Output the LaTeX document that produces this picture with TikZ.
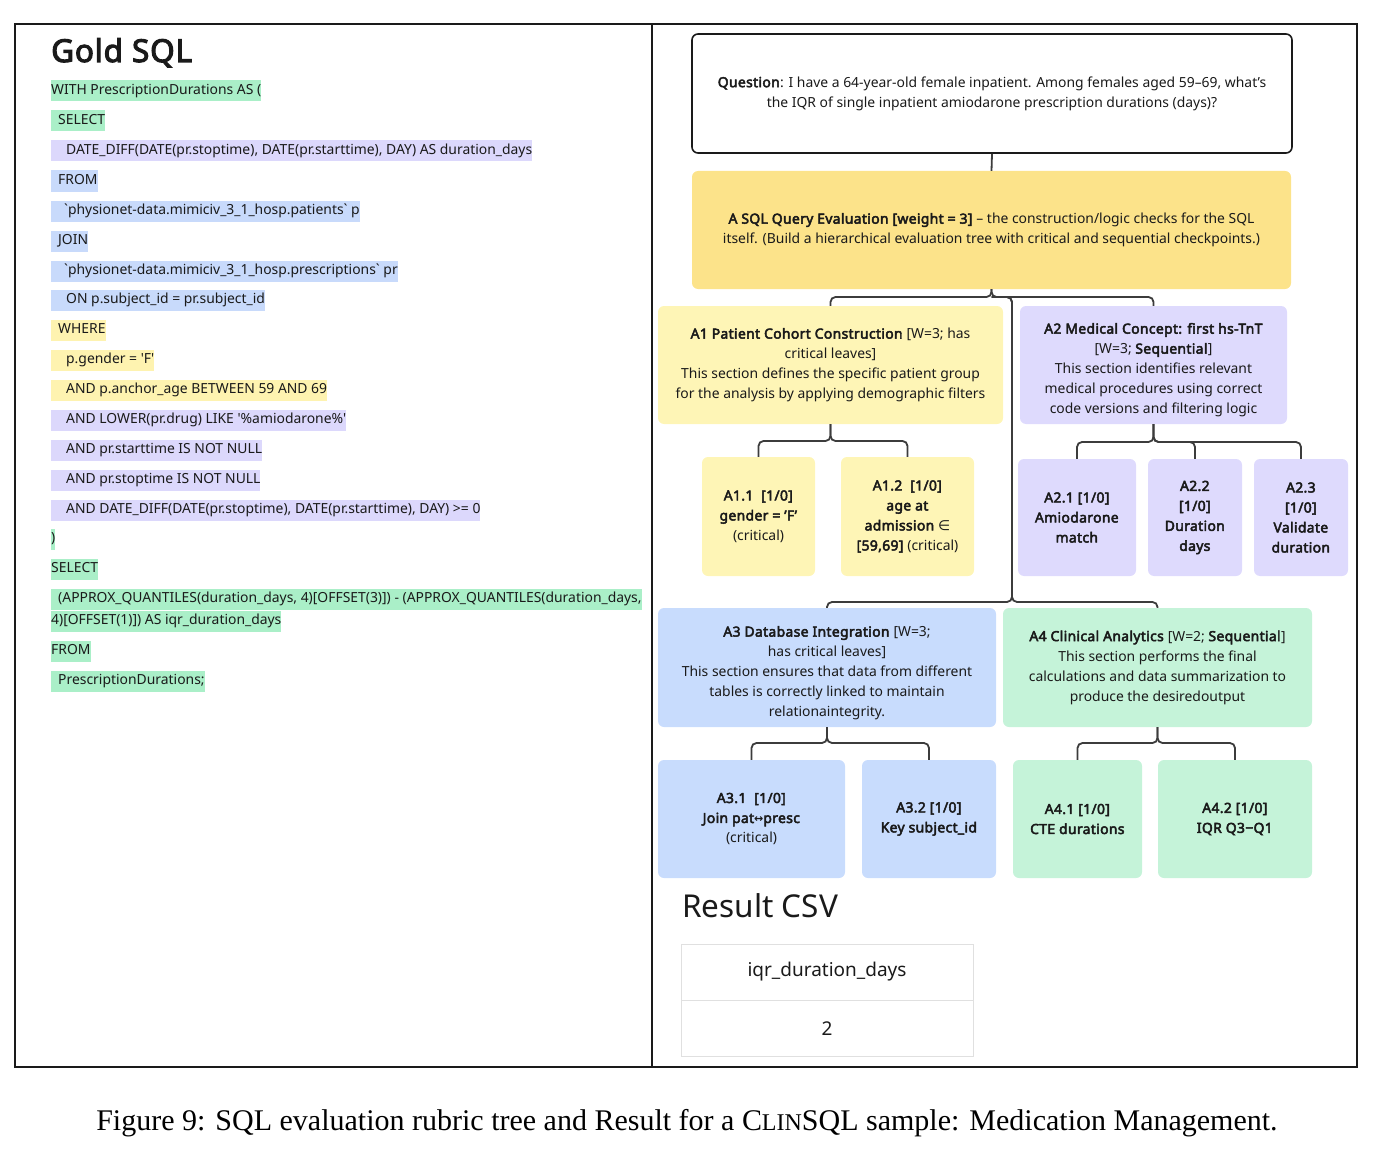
\documentclass[tikz,border=0pt]{standalone}
\usepackage{fontspec}
\setmainfont{Noto Sans}[Ligatures=ResetAll,BoldFont={Noto Sans},BoldFeatures={Ligatures=ResetAll,FakeBold=3.4,LetterSpace=2.5}]
\newfontfamily\codefont{Noto Sans}[Ligatures=ResetAll]
\newfontfamily\capfont{Liberation Serif}
\newfontfamily\symfont{DejaVu Sans}
\usetikzlibrary{positioning}

\definecolor{ink}{HTML}{1A1A1A}
\definecolor{cgreen}{HTML}{AAEFC8}
\definecolor{cpurple}{HTML}{DCD8FC}
\definecolor{cblue}{HTML}{C8DAFB}
\definecolor{cyellow}{HTML}{FEF3B0}
\definecolor{aroot}{HTML}{FCE38A}
\definecolor{aone}{HTML}{FEF5B6}
\definecolor{atwo}{HTML}{DEDAFD}
\definecolor{athree}{HTML}{C8DCFD}
\definecolor{afour}{HTML}{C5F3D9}

\begin{document}
\begin{tikzpicture}[x=1pt,y=-1pt,
    hl/.style={anchor=west,inner xsep=0pt,inner ysep=0pt,minimum height=21pt,
        text height=10pt,text depth=3pt,text=ink,font=\codefont\fontsize{13.9}{13.9}\selectfont},
    box/.style={rounded corners=6pt,align=center,inner sep=0pt,text=ink,
        font=\fontsize{13.9}{20}\selectfont},
    conn/.style={draw=ink!85,line width=1.8pt,rounded corners=5pt},
    cell/.style={draw=black!12,minimum width=292pt,minimum height=56pt,text=ink,
        font=\fontsize{19}{19}\selectfont}
    ]
    \useasboundingbox (0,0) rectangle (1374,1153);

    % frame
    \draw[line width=2pt,ink] (15,24) rectangle (1357,1067);
    \draw[line width=2pt,ink] (652,24) -- (652,1067);

    % Gold SQL panel
    \node[anchor=base west,inner sep=0pt,text=ink,font=\bfseries\fontsize{31.5}{31.5}\selectfont] (gold) at (51,62) {Gold SQL};

    \node[hl,fill=cgreen] (c1) at (51,91) {WITH PrescriptionDurations AS (};
    \node[hl,fill=cgreen] (c2) at (51,121) {\hspace*{7pt}SELECT};
    \node[hl,fill=cpurple] (c3) at (51,151) {\hspace*{15pt}DATE\_DIFF(DATE(pr.stoptime), DATE(pr.starttime), DAY) AS duration\_days};
    \node[hl,fill=cblue] (c4) at (51,181) {\hspace*{7pt}FROM};
    \node[hl,fill=cblue] (c5) at (51,211) {\hspace*{13pt}`physionet-data.mimiciv\_3\_1\_hosp.patients` p};
    \node[hl,fill=cblue] (c6) at (51,241) {\hspace*{7pt}JOIN};
    \node[hl,fill=cblue] (c7) at (51,271) {\hspace*{13pt}`physionet-data.mimiciv\_3\_1\_hosp.prescriptions` pr};
    \node[hl,fill=cblue] (c8) at (51,300) {\hspace*{15pt}ON p.subject\_id = pr.subject\_id};
    \node[hl,fill=cyellow] (c9) at (51,330) {\hspace*{7pt}WHERE};
    \node[hl,fill=cyellow] (c10) at (51,360) {\hspace*{15pt}p.gender = 'F'};
    \node[hl,fill=cyellow] (c11) at (51,390) {\hspace*{15pt}AND p.anchor\_age BETWEEN 59 AND 69};
    \node[hl,fill=cpurple] (c12) at (51,420) {\hspace*{15pt}AND LOWER(pr.drug) LIKE '\%amiodarone\%'};
    \node[hl,fill=cpurple] (c13) at (51,450) {\hspace*{15pt}AND pr.starttime IS NOT NULL};
    \node[hl,fill=cpurple] (c14) at (51,480) {\hspace*{15pt}AND pr.stoptime IS NOT NULL};
    \node[hl,fill=cpurple] (c15) at (51,510) {\hspace*{15pt}AND DATE\_DIFF(DATE(pr.stoptime), DATE(pr.starttime), DAY) >= 0};
    \node[hl,fill=cgreen] (c16) at (51,539) {)};
    \node[hl,fill=cgreen] (c17) at (51,569) {SELECT};
    \node[hl,fill=cgreen] (c18) at (51,599) {\hspace*{7pt}(APPROX\_QUANTILES(duration\_days, 4)[OFFSET(3)]) - (APPROX\_QUANTILES(duration\_days,};
    \node[hl,fill=cgreen] (c19) at (51,621) {4)[OFFSET(1)]) AS iqr\_duration\_days};
    \node[hl,fill=cgreen] (c20) at (51,651) {FROM};
    \node[hl,fill=cgreen] (c21) at (51,681) {\hspace*{7pt}PrescriptionDurations;};

    % rubric tree
    \node[box,draw=ink,line width=1.6pt,minimum width=600pt,minimum height=119pt] (Q) at (992,93.5)
        {\textbf{Question}: I have a 64-year-old female inpatient. Among females aged 59–69, what's\\
         the IQR of single inpatient amiodarone prescription durations (days)?};
    \node[box,fill=aroot,minimum width=599pt,minimum height=118pt] (A) at (991.5,230)
        {\textbf{A SQL Query Evaluation [weight = 3]} – the construction/logic checks for the SQL\\
         itself. (Build a hierarchical evaluation tree with critical and sequential checkpoints.)};

    \node[box,fill=aone,minimum width=345pt,minimum height=118pt] (A1) at (830.5,365)
        {\textbf{A1 Patient Cohort Construction} [W=3; has\\ critical leaves]\\
         This section defines the specific patient group\\ for the analysis by applying demographic filters};
    \node[box,fill=atwo,minimum width=267pt,minimum height=118pt] (A2) at (1153.5,365) {};
    \node[box] (A2t) at (1153.5,370)
        {\textbf{A2 Medical Concept: first hs-TnT}\\ {[}W=3; \textbf{Sequential}]\\
         This section identifies relevant\\ medical procedures using correct\\ code versions and filtering logic};

    \node[box,fill=aone,minimum width=113pt,minimum height=119pt] (A11) at (758.5,516.5)
        {\textbf{A1.1\ \ [1/0]}\\ \textbf{gender = 'F'}\\ (critical)};
    \node[box,fill=aone,minimum width=133pt,minimum height=119pt] (A12) at (907.5,516.5)
        {\textbf{A1.2\ \ [1/0]}\\ \textbf{age at}\\ \textbf{admission} {\symfont ∈}\\ \textbf{[59,69]} (critical)};
    \node[box,fill=atwo,minimum width=118pt,minimum height=117pt] (A21) at (1077,517.5)
        {\textbf{A2.1 [1/0]}\\ \textbf{Amiodarone}\\ \textbf{match}};
    \node[box,fill=atwo,minimum width=94pt,minimum height=117pt] (A22) at (1195,517.5)
        {\textbf{A2.2}\\ \textbf{[1/0]}\\ \textbf{Duration}\\ \textbf{days}};
    \node[box,fill=atwo,minimum width=94pt,minimum height=117pt] (A23) at (1301,517.5)
        {\textbf{A2.3}\\ \textbf{[1/0]}\\ \textbf{Validate}\\ \textbf{duration}};

    \node[box,fill=athree,minimum width=338pt,minimum height=119pt] (A3) at (827,667.5) {};
    \node[box] (A3t) at (827,673)
        {\textbf{A3 Database Integration} [W=3;\\ has critical leaves]\\
         This section ensures that data from different\\ tables is correctly linked to maintain\\ relationaintegrity.};
    \node[box,fill=afour,minimum width=309pt,minimum height=119pt] (A4) at (1157.5,667.5)
        {\textbf{A4 Clinical Analytics} [W=2; \textbf{Sequential}]\\ This section performs the final\\
         calculations and data summarization to\\ produce the desiredoutput};

    \node[box,fill=athree,minimum width=187pt,minimum height=118pt] (A31) at (751.5,819)
        {\textbf{A3.1\ \ [1/0]}\\ \textbf{Join pat{\symfont\fontsize{11}{11}\selectfont ↔}presc}\\ (critical)};
    \node[box,fill=athree,minimum width=134pt,minimum height=118pt] (A32) at (929,819)
        {\textbf{A3.2 [1/0]}\\ \textbf{Key subject\_id}};
    \node[box,fill=afour,minimum width=129pt,minimum height=118pt] (A41) at (1077.5,819)
        {\textbf{A4.1 [1/0]}\\ \textbf{CTE durations}};
    \node[box,fill=afour,minimum width=154pt,minimum height=118pt] (A42) at (1235,819)
        {\textbf{A4.2 [1/0]}\\ \textbf{IQR Q3−Q1}};

    % connectors
    \draw[conn] (Q.south) -- (A.north);
    \coordinate (jA) at (991.5,297);
    \coordinate (jB) at (1012,602);
    \draw[conn] (A.south) -- (jA) -| (A1.north);
    \draw[conn] (A.south) -- (jA) -| (A2.north);
    \draw[conn] (jA) -| (jB) -| (A3.north);
    \draw[conn] (jA) -| (jB) -| (A4.north);

    \coordinate (j1) at (830.5,441);
    \draw[conn] (A1.south) -- (j1) -| (A11.north);
    \draw[conn] (A1.south) -- (j1) -| (A12.north);
    \coordinate (j2) at (1153.5,442);
    \draw[conn] (A2.south) -- (j2) -| (A21.north);
    \draw[conn] (A2.south) -- (j2) -| (A22.north);
    \draw[conn] (A2.south) -- (j2) -| (A23.north);
    \coordinate (j3) at (827,743);
    \draw[conn] (A3.south) -- (j3) -| (A31.north);
    \draw[conn] (A3.south) -- (j3) -| (A32.north);
    \coordinate (j4) at (1157.5,743);
    \draw[conn] (A4.south) -- (j4) -| (A41.north);
    \draw[conn] (A4.south) -- (j4) -| (A42.north);

    % result table
    \node[anchor=base west,inner sep=0pt,text=ink,font=\fontsize{31.5}{31.5}\selectfont] (res) at (682,917) {Result CSV};
    \node[cell] (th) at (827,972) {iqr\_duration\_days};
    \node[cell,below=0pt of th] (tv) {2};

    % caption
    \node[anchor=base,inner sep=0pt,font=\capfont\fontsize{30}{30}\selectfont] (cap) at (687,1130)
        {Figure 9: SQL evaluation rubric tree and Result for a C{\fontsize{24}{24}\selectfont LIN}SQL sample: Medication Management.};
\end{tikzpicture}
\end{document}
